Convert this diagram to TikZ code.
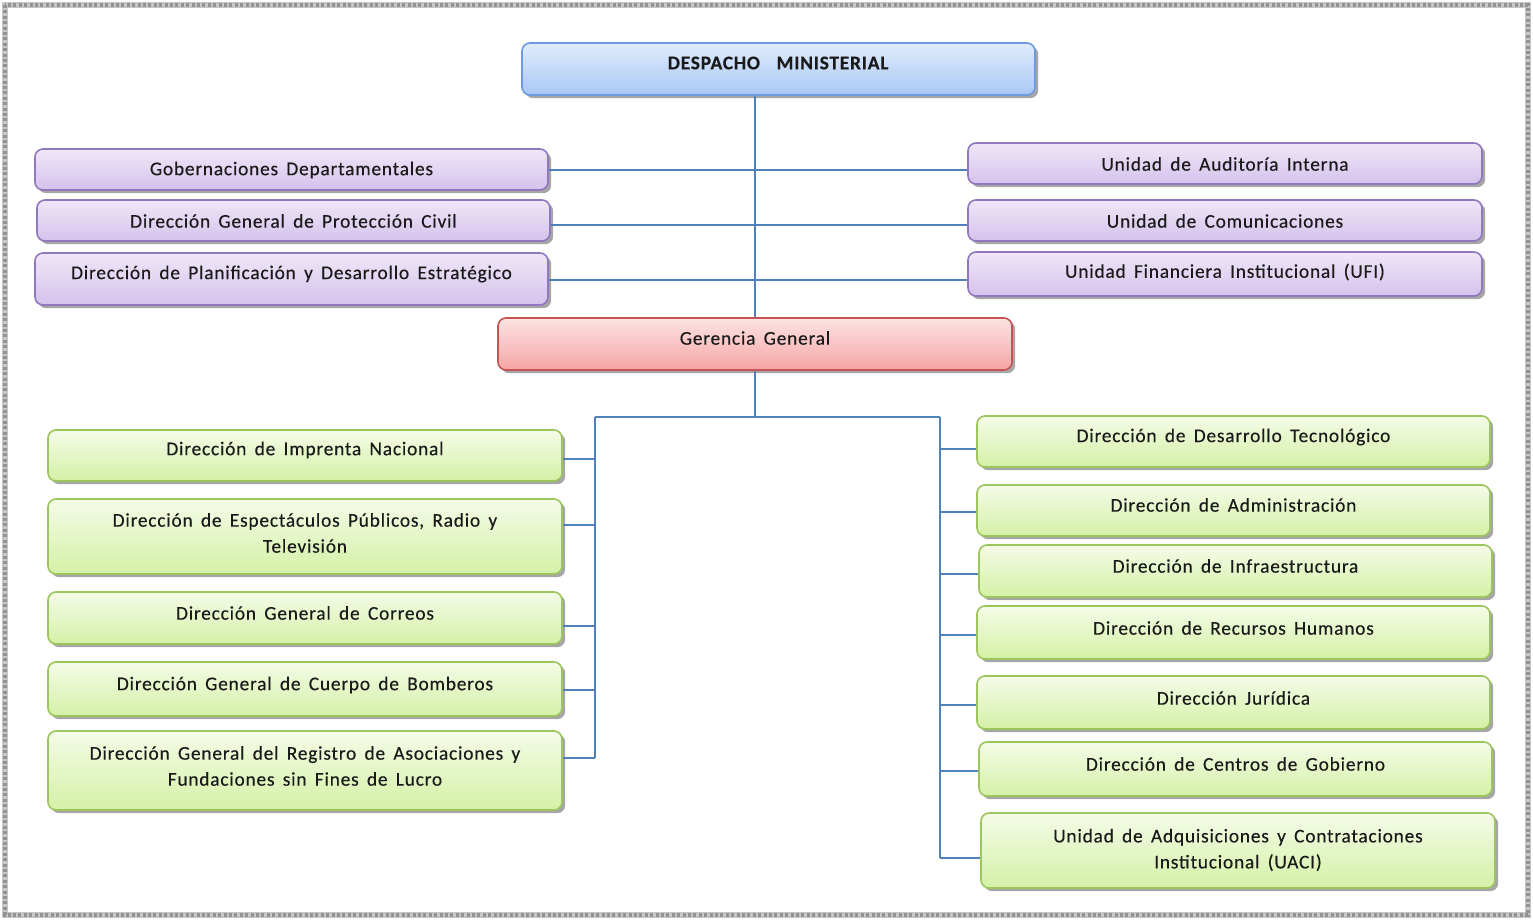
\documentclass[tikz,border=0pt]{standalone}
\usepackage{fontspec}
\setmainfont{Carlito}[LetterSpace=4,WordSpace=1.6,FakeBold=0.3]
\usetikzlibrary{shadows}
\definecolor{bluetop}{HTML}{E0ECFC}
\definecolor{bluebot}{HTML}{A9C7F5}
\definecolor{bluebd}{HTML}{6F9AE0}
\definecolor{purtop}{HTML}{EFE7F8}
\definecolor{purbot}{HTML}{D5C2EC}
\definecolor{purbd}{HTML}{9177BD}
\definecolor{redtop}{HTML}{FDE3E3}
\definecolor{redbot}{HTML}{F6A5A5}
\definecolor{redbd}{HTML}{C65454}
\definecolor{grtop}{HTML}{F5FBE8}
\definecolor{grbot}{HTML}{D4F1A6}
\definecolor{grbd}{HTML}{9CC55E}
\definecolor{linec}{HTML}{4F81BD}
\definecolor{txt}{HTML}{1A1A1A}
\tikzset{
  x=0.5pt, y=-0.5pt,
  box/.style={draw, rounded corners=4pt, line width=0.8pt, inner sep=0pt,
    drop shadow={shadow xshift=1.6pt, shadow yshift=-1.6pt, fill=black, opacity=0.35}},
  bluebox/.style={box, draw=bluebd, top color=bluetop, bottom color=bluebot},
  purbox/.style={box, draw=purbd, top color=purtop, bottom color=purbot},
  redbox/.style={box, draw=redbd, top color=redtop, bottom color=redbot},
  grbox/.style={box, draw=grbd, top color=grtop, bottom color=grbot},
  lbl/.style={inner sep=0pt, align=center, text=txt, font=\fontsize{9.7}{13}\selectfont},
  conn/.style={draw=linec, line width=0.8pt}
}
\newcommand\bx[8]{%
  \node[#2, minimum width={(#5-#3)*0.5pt}, minimum height={(#6-#4)*0.5pt}] (#1) at ({(#3+#5)/2},{(#4+#6)/2}) {};
  \node[lbl] (#1t) at ({(#3+#5)/2},#7) {#8};}
\begin{document}
\begin{tikzpicture}
\useasboundingbox (0,0) rectangle (1533,920);
\fill[white] (0,0) rectangle (1533,920);
\draw[gray!45, line width=3.2pt] (5,5) rectangle (1528,915);
\draw[gray!85, line width=1.6pt, dash pattern=on 1.5pt off 1.2pt] (5,5) rectangle (1528,915);

\bx{desp}{bluebox}{522}{43}{1035}{95}{63}{\textbf{DESPACHO\ \ MINISTERIAL}}
\bx{gob}{purbox}{35}{149}{548}{190}{170}{Gobernaciones Departamentales}
\bx{pc}{purbox}{37}{200}{550}{241}{221}{Dirección General de Protección Civil}
\bx{plan}{purbox}{35}{253}{548}{305}{274}{Dirección de Planificación y Desarrollo Estratégico}
\bx{aud}{purbox}{968}{143}{1482}{184}{164}{Unidad de Auditoría Interna}
\bx{com}{purbox}{968}{200}{1482}{241}{221}{Unidad de Comunicaciones}
\bx{ufi}{purbox}{968}{252}{1482}{296}{272}{Unidad Financiera Institucional (UFI)}
\bx{ger}{redbox}{498}{318}{1012}{370}{338}{Gerencia General}

\bx{imp}{grbox}{48}{430}{562}{481}{450}{Dirección de Imprenta Nacional}
\bx{esp}{grbox}{48}{499}{562}{574}{533}{Dirección de Espectáculos Públicos, Radio y\\Televisión}
\bx{cor}{grbox}{48}{592}{562}{644}{613}{Dirección General de Correos}
\bx{bom}{grbox}{48}{662}{562}{716}{685}{Dirección General de Cuerpo de Bomberos}
\bx{reg}{grbox}{48}{731}{562}{810}{766}{Dirección General del Registro de Asociaciones y\\Fundaciones sin Fines de Lucro}

\bx{tec}{grbox}{977}{416}{1490}{467}{437}{Dirección de Desarrollo Tecnológico}
\bx{adm}{grbox}{977}{485}{1490}{536}{505}{Dirección de Administración}
\bx{inf}{grbox}{979}{545}{1492}{597}{566}{Dirección de Infraestructura}
\bx{rh}{grbox}{977}{606}{1490}{659}{628}{Dirección de Recursos Humanos}
\bx{jur}{grbox}{977}{676}{1490}{729}{698}{Dirección Jurídica}
\bx{cen}{grbox}{979}{742}{1492}{796}{764}{Dirección de Centros de Gobierno}
\bx{uaci}{grbox}{981}{813}{1495}{888}{850}{Unidad de Adquisiciones y Contrataciones\\Institucional (UACI)}

% upper connectors
\draw[conn] (desp.south -| ger.north) -- (ger.north);
\coordinate (j1) at (755,170);
\coordinate (j2) at (755,225);
\coordinate (j3) at (755,280);
\draw[conn] (gob.east |- j1) -- (aud.west |- j1);
\draw[conn] (pc.east |- j2) -- (com.west |- j2);
\draw[conn] (plan.east |- j3) -- (ufi.west |- j3);

% lower connectors
\coordinate (bl) at (595,417);
\coordinate (br) at (940,417);
\draw[conn] (ger.south) -- (ger.south |- bl);
\draw[conn] (bl) -- (br);
\coordinate (l1) at (595,459);
\coordinate (l2) at (595,525);
\coordinate (l3) at (595,626);
\coordinate (l4) at (595,690);
\coordinate (l5) at (595,758);
\draw[conn] (bl) -- (l5);
\draw[conn] (l1) -- (imp.east |- l1);
\draw[conn] (l2) -- (esp.east |- l2);
\draw[conn] (l3) -- (cor.east |- l3);
\draw[conn] (l4) -- (bom.east |- l4);
\draw[conn] (l5) -- (reg.east |- l5);
\coordinate (r1) at (940,449);
\coordinate (r2) at (940,512);
\coordinate (r3) at (940,574);
\coordinate (r4) at (940,635);
\coordinate (r5) at (940,705);
\coordinate (r6) at (940,771);
\coordinate (r7) at (940,858);
\draw[conn] (br) -- (r7);
\draw[conn] (r1) -- (tec.west |- r1);
\draw[conn] (r2) -- (adm.west |- r2);
\draw[conn] (r3) -- (inf.west |- r3);
\draw[conn] (r4) -- (rh.west |- r4);
\draw[conn] (r5) -- (jur.west |- r5);
\draw[conn] (r6) -- (cen.west |- r6);
\draw[conn] (r7) -- (uaci.west |- r7);
\end{tikzpicture}
\end{document}
